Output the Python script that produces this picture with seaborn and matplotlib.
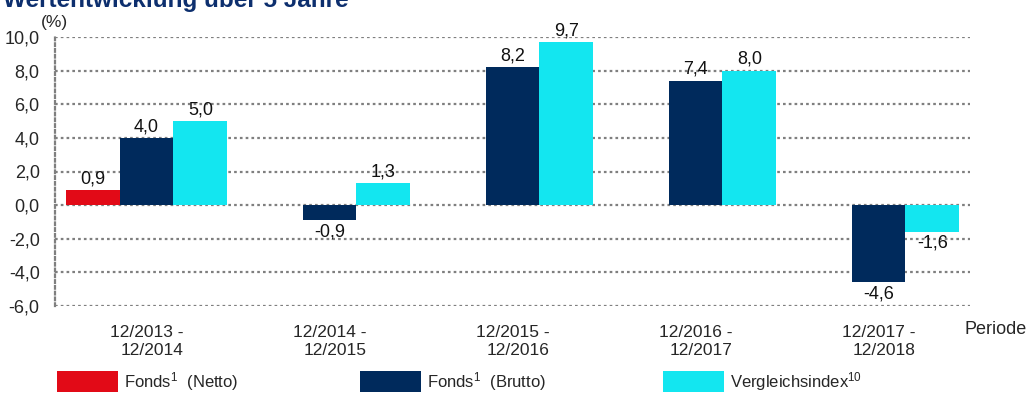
import numpy as np
import pandas as pd
import matplotlib
matplotlib.use("Agg")
import matplotlib.pyplot as plt
import seaborn as sns

# Data
periods = ["12/2013 -\n12/2014", "12/2014 -\n12/2015", "12/2015 -\n12/2016",
           "12/2016 -\n12/2017", "12/2017 -\n12/2018"]
series_names = ["Fonds$^{1}$  (Netto)", "Fonds$^{1}$  (Brutto)", "Vergleichsindex$^{10}$"]
fonds_netto = [0.9, None, None, None, None]
fonds_brutto = [4.0, -0.9, 8.2, 7.4, -4.6]
vergleichsindex = [5.0, 1.3, 9.7, 8.0, -1.6]
y_ticks = [-6.0, -4.0, -2.0, 0.0, 2.0, 4.0, 6.0, 8.0, 10.0]
colors = ["#E20A17", "#002A5C", "#13E6F0"]

rows = []
for name, vals in zip(series_names, [fonds_netto, fonds_brutto, vergleichsindex]):
    for p, v in zip(periods, vals):
        if v is not None:
            rows.append({"Periode": p, "Serie": name, "Wert": v})
df = pd.DataFrame(rows)

sns.set_theme(style="white")
plt.rcParams["font.family"] = ["Liberation Sans", "DejaVu Sans"]
plt.rcParams["mathtext.default"] = "regular"

W, H = 1028, 393
fig = plt.figure(figsize=(W / 100, H / 100), dpi=100)
ax = fig.add_axes([55 / W, 1 - 306 / H, 915 / W, 269 / H])

sns.barplot(data=df, x="Periode", y="Wert", hue="Serie", order=periods,
            hue_order=series_names, palette=colors, width=0.885,
            errorbar=None, linewidth=0, saturation=1, ax=ax)

handles, labels = ax.get_legend_handles_labels()
if ax.get_legend() is not None:
    ax.get_legend().remove()

ax.set_xlim(-0.5, 4.5)
ax.set_ylim(-6.0, 10.0)
ax.set_yticks(y_ticks)
ax.set_yticklabels([f"{t:.1f}".replace(".", ",") for t in y_ticks], fontsize=13)
ax.tick_params(axis="y", length=0, pad=11)
ax.tick_params(axis="x", length=0, pad=14, labelsize=12.5)
for lbl in ax.get_xticklabels():
    lbl.set_multialignment("right")
ax.set_xlabel("")
ax.set_ylabel("")

# Dotted grid and left axis line
ax.grid(axis="y", color="#7F7F7F", linestyle=(0, (1.2, 1.4)), linewidth=1.6)
ax.set_axisbelow(True)
for s in ["top", "right", "bottom"]:
    ax.spines[s].set_visible(False)
ax.spines["left"].set_linestyle((0, (1.2, 1.4)))
ax.spines["left"].set_color("#7F7F7F")
ax.spines["left"].set_linewidth(1.6)

# Value labels
for cont in ax.containers:
    ax.bar_label(cont, fmt=lambda v: f"{v:.1f}".replace(".", ","),
                 padding=2, fontsize=13, color="#111111")

# Texts around the plot
fig.text(3 / W, 1 - 7 / H, "Wertentwicklung über 5 Jahre", fontsize=17.5,
         fontweight="bold", color="#0D2F6E", va="baseline", ha="left")
fig.text(54 / W, 1 - 27 / H, "(%)", fontsize=12.5, va="baseline", ha="center")
fig.text(1027 / W, 1 - 334 / H, "Periode", fontsize=13, va="baseline", ha="right")

# Legend entries placed individually along the bottom
fs = 12
fs_px = fs * 100 / 72
legend_x = [57, 360, 663]
for h, l, x0 in zip(handles, labels, legend_x):
    fig.legend([h], [l], loc="lower left", bbox_to_anchor=(x0 / W, 0),
               frameon=False, borderpad=0, borderaxespad=0, fontsize=fs,
               handlelength=61 / fs_px, handleheight=26 / fs_px,
               handletextpad=6 / fs_px)

fig.savefig("out.png", dpi=100)
